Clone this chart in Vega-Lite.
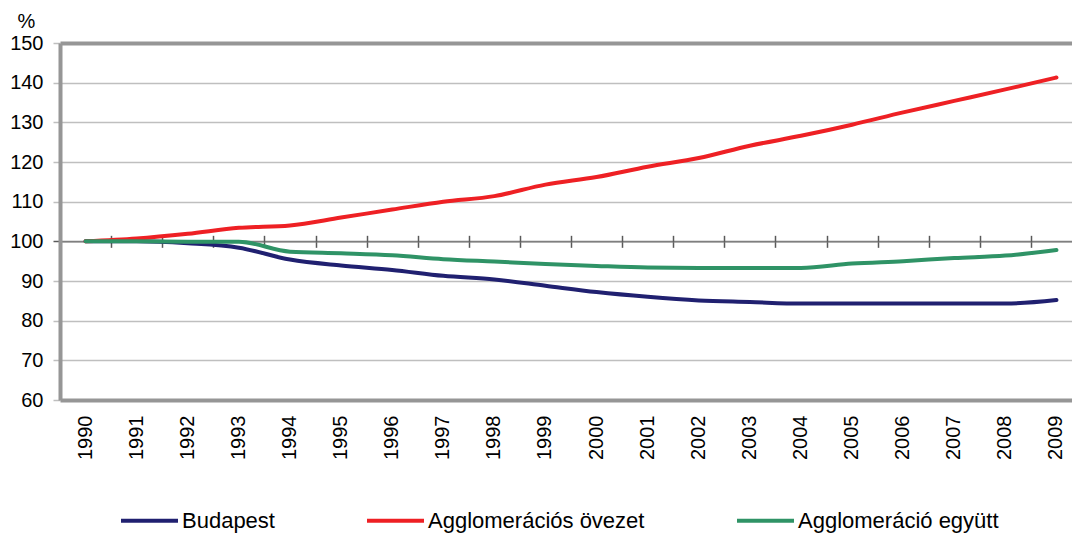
{
  "$schema": "https://vega.github.io/schema/vega-lite/v6.json",
  "width": 1012,
  "height": 357,
  "autosize": "none",
  "padding": {"left": 60, "top": 43, "right": 0, "bottom": 133},
  "background": "white",
  "config": {"font": "Liberation Sans", "view": {"stroke": null}},
  "data": {
    "values": [
      {"year": 1990, "series": "Budapest", "value": 100},
      {"year": 1991, "series": "Budapest", "value": 100},
      {"year": 1992, "series": "Budapest", "value": 99.5},
      {"year": 1993, "series": "Budapest", "value": 98.4},
      {"year": 1994, "series": "Budapest", "value": 95.4},
      {"year": 1995, "series": "Budapest", "value": 93.9},
      {"year": 1996, "series": "Budapest", "value": 92.8},
      {"year": 1997, "series": "Budapest", "value": 91.3},
      {"year": 1998, "series": "Budapest", "value": 90.4},
      {"year": 1999, "series": "Budapest", "value": 88.8},
      {"year": 2000, "series": "Budapest", "value": 87.2},
      {"year": 2001, "series": "Budapest", "value": 86.0},
      {"year": 2002, "series": "Budapest", "value": 85.1},
      {"year": 2003, "series": "Budapest", "value": 84.7},
      {"year": 2004, "series": "Budapest", "value": 84.3},
      {"year": 2005, "series": "Budapest", "value": 84.3},
      {"year": 2006, "series": "Budapest", "value": 84.3},
      {"year": 2007, "series": "Budapest", "value": 84.3},
      {"year": 2008, "series": "Budapest", "value": 84.3},
      {"year": 2009, "series": "Budapest", "value": 85.2},
      {"year": 1990, "series": "Agglomerációs övezet", "value": 100},
      {"year": 1991, "series": "Agglomerációs övezet", "value": 100.7},
      {"year": 1992, "series": "Agglomerációs övezet", "value": 101.9},
      {"year": 1993, "series": "Agglomerációs övezet", "value": 103.4},
      {"year": 1994, "series": "Agglomerációs övezet", "value": 104.0},
      {"year": 1995, "series": "Agglomerációs övezet", "value": 106.0},
      {"year": 1996, "series": "Agglomerációs övezet", "value": 108.0},
      {"year": 1997, "series": "Agglomerációs övezet", "value": 110.0},
      {"year": 1998, "series": "Agglomerációs övezet", "value": 111.4},
      {"year": 1999, "series": "Agglomerációs övezet", "value": 114.3},
      {"year": 2000, "series": "Agglomerációs övezet", "value": 116.2},
      {"year": 2001, "series": "Agglomerációs övezet", "value": 118.8},
      {"year": 2002, "series": "Agglomerációs övezet", "value": 121.0},
      {"year": 2003, "series": "Agglomerációs övezet", "value": 124.1},
      {"year": 2004, "series": "Agglomerációs övezet", "value": 126.6},
      {"year": 2005, "series": "Agglomerációs övezet", "value": 129.4},
      {"year": 2006, "series": "Agglomerációs övezet", "value": 132.5},
      {"year": 2007, "series": "Agglomerációs övezet", "value": 135.4},
      {"year": 2008, "series": "Agglomerációs övezet", "value": 138.3},
      {"year": 2009, "series": "Agglomerációs övezet", "value": 141.3},
      {"year": 1990, "series": "Agglomeráció együtt", "value": 100},
      {"year": 1991, "series": "Agglomeráció együtt", "value": 100},
      {"year": 1992, "series": "Agglomeráció együtt", "value": 99.9},
      {"year": 1993, "series": "Agglomeráció együtt", "value": 99.9},
      {"year": 1994, "series": "Agglomeráció együtt", "value": 97.4},
      {"year": 1995, "series": "Agglomeráció együtt", "value": 97.0},
      {"year": 1996, "series": "Agglomeráció együtt", "value": 96.5},
      {"year": 1997, "series": "Agglomeráció együtt", "value": 95.5},
      {"year": 1998, "series": "Agglomeráció együtt", "value": 94.9},
      {"year": 1999, "series": "Agglomeráció együtt", "value": 94.3},
      {"year": 2000, "series": "Agglomeráció együtt", "value": 93.8},
      {"year": 2001, "series": "Agglomeráció együtt", "value": 93.4},
      {"year": 2002, "series": "Agglomeráció együtt", "value": 93.3},
      {"year": 2003, "series": "Agglomeráció együtt", "value": 93.3},
      {"year": 2004, "series": "Agglomeráció együtt", "value": 93.3},
      {"year": 2005, "series": "Agglomeráció együtt", "value": 94.4},
      {"year": 2006, "series": "Agglomeráció együtt", "value": 95.0},
      {"year": 2007, "series": "Agglomeráció együtt", "value": 95.8},
      {"year": 2008, "series": "Agglomeráció együtt", "value": 96.4},
      {"year": 2009, "series": "Agglomeráció együtt", "value": 97.8}
    ]
  },
  "encoding": {
    "y": {
      "field": "value", "type": "quantitative",
      "scale": {"domain": [60, 150], "nice": false, "zero": false},
      "axis": {
        "title": "%", "titleAngle": 0, "titleAlign": "left", "titleBaseline": "alphabetic",
        "titleX": -43, "titleY": -16, "titleFontSize": 20, "titleFontWeight": "normal", "titleColor": "black",
        "values": [60, 70, 80, 90, 100, 110, 120, 130, 140, 150],
        "grid": true,
        "gridColor": {"condition": {"test": "datum.value === 100", "value": "#7f7f7f"}, "value": "#bfbfbf"},
        "gridWidth": 1.5,
        "domainColor": "#969696", "domainWidth": 4,
        "tickColor": {"condition": {"test": "datum.value === 100", "value": "#595959"}, "value": "#bfbfbf"},
        "tickSize": 7, "tickWidth": 1.5,
        "labelFontSize": 20, "labelColor": "black", "labelPadding": 10
      }
    },
    "detail": {"field": "series"}
  },
  "layer": [
    {
      "mark": {"type": "line", "opacity": 0},
      "encoding": {
        "x": {
          "field": "year", "type": "ordinal", "bandPosition": 0.5,
          "scale": {"type": "band", "paddingInner": 0, "paddingOuter": 0, "range": [0, 1022]},
          "axis": {"orient": "top", "labels": false, "ticks": false, "title": null, "grid": false,
                   "domainColor": "#969696", "domainWidth": 4}
        }
      }
    },
    {
      "mark": {"type": "line", "opacity": 0},
      "encoding": {
        "x": {
          "field": "year", "type": "ordinal", "bandPosition": 0.5,
          "scale": {"type": "band", "paddingInner": 0, "paddingOuter": 0, "range": [0, 1022]},
          "axis": {"orient": "bottom", "offset": -158.67, "labels": false, "title": null, "grid": false,
                   "domainColor": "#7f7f7f", "domainWidth": 1.5, "tickBand": "extent", "tickSize": 6,
                   "tickColor": "#595959", "tickWidth": 1.5}
        }
      }
    },
    {
      "mark": {"type": "line", "opacity": 0},
      "encoding": {
        "x": {
          "field": "year", "type": "ordinal", "bandPosition": 0.5,
          "scale": {"type": "band", "paddingInner": 0, "paddingOuter": 0, "range": [0, 1022]},
          "axis": {"orient": "bottom", "offset": -158.67, "labels": false, "title": null, "grid": false,
                   "domain": false, "tickBand": "extent", "tickSize": -6,
                   "tickColor": "#595959", "tickWidth": 1.5}
        }
      }
    },
    {
      "mark": {"type": "line", "strokeWidth": 4, "interpolate": "monotone", "strokeCap": "round"},
      "encoding": {
        "x": {
          "field": "year", "type": "ordinal", "bandPosition": 0.5,
          "scale": {"type": "band", "paddingInner": 0, "paddingOuter": 0, "range": [0, 1022]},
          "axis": {"orient": "bottom", "title": null, "labelAngle": 270, "labelAlign": "right", "labelBaseline": "middle",
                   "labelFontSize": 20, "labelColor": "black", "labelPadding": 15, "ticks": false, "grid": false,
                   "domainColor": "#969696", "domainWidth": 4}
        },
        "color": {
          "field": "series", "type": "nominal",
          "scale": {
            "domain": ["Budapest", "Agglomerációs övezet", "Agglomeráció együtt"],
            "range": ["#202070", "#ee2024", "#2f9366"]
          },
          "legend": {
            "title": null, "orient": "none", "legendX": 59, "legendY": 447, "direction": "horizontal",
            "symbolType": "stroke", "symbolSize": 3249, "symbolStrokeWidth": 4,
            "labelFontSize": 22, "labelColor": "black", "labelOffset": 2, "columnPadding": 84, "labelLimit": 400
          }
        }
      }
    }
  ],
  "resolve": {"axis": {"x": "independent"}}
}
